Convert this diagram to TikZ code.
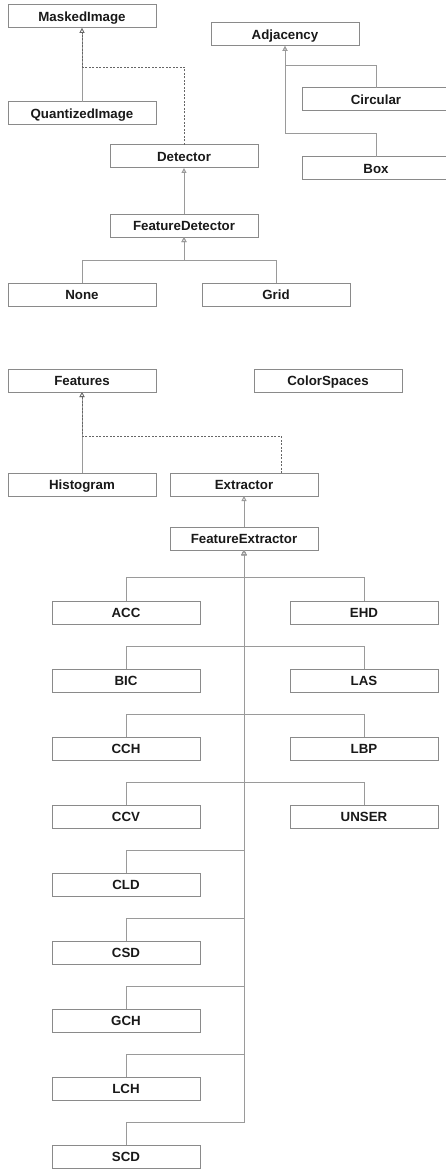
\documentclass[tikz,border=0pt]{standalone}
\usepackage{fontspec}
\setmainfont{Liberation Sans}
\usetikzlibrary{arrows.meta, positioning}
\definecolor{boxgray}{HTML}{8A8A8A}
\definecolor{edgegray}{HTML}{9A9A9A}
\tikzset{
  cls/.style={rectangle, draw=boxgray, fill=white, line width=1pt,
              minimum width=148pt, minimum height=23pt, inner sep=0pt, outer sep=0pt,
              text height=11pt, text depth=1.5pt,
              font=\bfseries\fontsize{13.3}{15}\selectfont, text=black!90},
  inherit/.style={-{Triangle[length=5pt, width=5pt, fill=white]}, draw=edgegray, line width=1pt},
  realize/.style={-{Triangle[length=5pt, width=5pt, fill=white]}, draw=black!60,
                  line width=0.8pt, dash pattern=on 2pt off 1.5pt},
}
\begin{document}
\begin{tikzpicture}[x=1pt, y=1pt]

  \useasboundingbox (0,0) rectangle (446,-1169);

  % =====================================================
  % DETECTORS
  % =====================================================

  \node[cls] (masked) at (82,-16.5) {MaskedImage};

  \node[cls, right=55pt of masked, yshift=-18pt]
    (adj) {Adjacency};

  \node[cls, below=42pt of adj, xshift=91pt]
    (circ) {Circular};

  \node[cls, below=46pt of circ]
    (box) {Box};

  \node[cls, below=74pt of masked]
    (quant) {QuantizedImage};

  \node[cls, below=20pt of quant, xshift=102pt]
    (det) {Detector};

  \node[cls, below=46pt of det]
    (fdet) {FeatureDetector};

  \node[cls, below=46pt of fdet, xshift=-102pt]
    (none) {None};

  \node[cls, right=46pt of none]
    (grid) {Grid};


  % =====================================================
  % EXTRACTORS
  % =====================================================

  \node[cls, below=63pt of none]
    (feat) {Features};

  \node[cls, right=98pt of feat]
    (cspace) {ColorSpaces};

  \node[cls, below=81pt of feat]
    (hist) {Histogram};

  \node[cls, right=14pt of hist]
    (extr) {Extractor};

  \node[cls, below=31pt of extr]
    (fext) {FeatureExtractor};

  \node[cls, below=51pt of fext, xshift=-118pt]
    (acc) {ACC};

  \node[cls, right=90pt of acc]
    (ehd) {EHD};

  \node[cls, below=45pt of acc]
    (bic) {BIC};

  \node[cls, right=90pt of bic]
    (las) {LAS};

  \node[cls, below=45pt of bic]
    (cch) {CCH};

  \node[cls, right=90pt of cch]
    (lbp) {LBP};

  \node[cls, below=45pt of cch]
    (ccv) {CCV};

  \node[cls, right=90pt of ccv]
    (unser) {UNSER};

  \node[cls, below=45pt of ccv]
    (cld) {CLD};

  \node[cls, below=45pt of cld]
    (csd) {CSD};

  \node[cls, below=45pt of csd]
    (gch) {GCH};

  \node[cls, below=45pt of gch]
    (lch) {LCH};

  \node[cls, below=45pt of lch]
    (scd) {SCD};


  % =====================================================
  % DETECTOR LINKS
  % =====================================================

  \draw[inherit]
    (quant) -- (masked);

  \draw[realize]
    (det.north) -- ++(0,78) -| (masked.south);

  \draw[inherit]
    (circ.north) -- ++(0,22) -| (adj.south);

  \draw[inherit]
    (box.north) -- ++(0,23) -| (adj.south);

  \draw[inherit]
    (fdet) -- (det);

  \draw[inherit]
    (none.north) -- ++(0,23) -| (fdet.south);

  \draw[inherit]
    (grid.north) -- ++(0,23) -| (fdet.south);


  % =====================================================
  % EXTRACTOR LINKS
  % =====================================================

  \draw[inherit]
    (hist) -- (feat);

  \draw[realize]
    (extr.north) ++(37,0) -- ++(0,37) -| (feat.south);

  \draw[inherit]
    (fext) -- (extr);

  \draw[inherit]
    (acc.north) -- ++(0,24) -| (fext.south);

  \draw[inherit]
    (ehd.north) -- ++(0,24) -| (fext.south);

  \draw[inherit]
    (bic.north) -- ++(0,23) -| (fext.south);

  \draw[inherit]
    (las.north) -- ++(0,23) -| (fext.south);

  \draw[inherit]
    (cch.north) -- ++(0,23) -| (fext.south);

  \draw[inherit]
    (lbp.north) -- ++(0,23) -| (fext.south);

  \draw[inherit]
    (ccv.north) -- ++(0,23) -| (fext.south);

  \draw[inherit]
    (unser.north) -- ++(0,23) -| (fext.south);

  \draw[inherit]
    (cld.north) -- ++(0,23) -| (fext.south);

  \draw[inherit]
    (csd.north) -- ++(0,23) -| (fext.south);

  \draw[inherit]
    (gch.north) -- ++(0,23) -| (fext.south);

  \draw[inherit]
    (lch.north) -- ++(0,23) -| (fext.south);

  \draw[inherit]
    (scd.north) -- ++(0,23) -| (fext.south);

\end{tikzpicture}
\end{document}
